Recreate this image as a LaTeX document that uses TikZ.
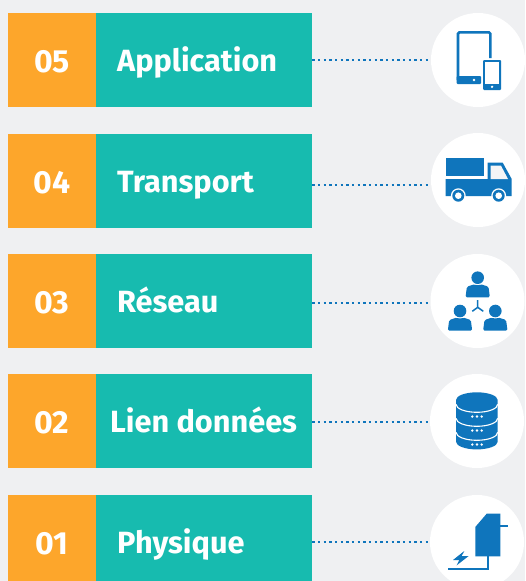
\documentclass[tikz,border=0pt]{standalone}
\usepackage{fontspec}
\setmainfont{Fira Sans}
\definecolor{pagegray}{HTML}{EFF0F2}
\definecolor{numorange}{HTML}{FDA62B}
\definecolor{rowteal}{HTML}{17BBAF}
\definecolor{iconblue}{HTML}{0F75BC}
\newcommand{\personicon}[2]{%
	\fill [iconblue] (#1,#2) circle (6.3);
	\fill [iconblue, rounded corners=1.5pt] (#1-12.2,#2+19.7) -- (#1-10.8,#2+9) -- (#1-3,#2+6.5) -- (#1,#2+8) -- (#1+3,#2+6.5) -- (#1+10.8,#2+9) -- (#1+12.2,#2+19.7) -- cycle;
}
\begin{document}
\begin{tikzpicture}[x=1pt,y=-1pt]
	\tikzstyle{numbox}=[fill=numorange, text=white, font=\bfseries\fontsize{32}{32}\selectfont, minimum width=88pt, minimum height=94pt, inner sep=0pt, text height=25pt, text depth=0pt]
	\tikzstyle{namebox}=[fill=rowteal, minimum width=216pt, minimum height=94pt, inner sep=0pt]
	\tikzstyle{nametext}=[anchor=base west, text=white, font=\bfseries\fontsize{30.7}{31}\selectfont, inner sep=0pt]
	\tikzstyle{iconcircle}=[circle, fill=white, minimum size=94pt, inner sep=0pt]
	\tikzstyle{dotline}=[iconblue, line width=2pt, dash pattern=on 2.4pt off 3.27pt]
	\useasboundingbox (0, 0) rectangle (525, 581);
	\clip (0, 0) rectangle (525, 581);
	\fill [pagegray] (0, 0) rectangle (525, 581);

	\node [numbox] (numA) at (52, 60) {05};
	\node [namebox] (nameA) at (204, 60) {};
	\node [nametext] (textA) at (117, 71.7) {Application};
	\node [numbox] (numB) at (52, 181) {04};
	\node [namebox] (nameB) at (204, 181) {};
	\node [nametext] (textB) at (117, 192.7) {Transport};
	\node [numbox] (numC) at (52, 301) {03};
	\node [namebox] (nameC) at (204, 301) {};
	\node [nametext] (textC) at (117, 312.7) {Réseau};
	\node [numbox] (numD) at (52, 421) {02};
	\node [namebox] (nameD) at (204, 421) {};
	\node [nametext] (textD) at (110, 432.7) {Lien données};
	\node [numbox] (numE) at (52, 542) {01};
	\node [namebox] (nameE) at (204, 542) {};
	\node [nametext] (textE) at (117, 553.7) {Physique};

	\node [iconcircle] (roundA) at (478, 60) {};
	\node [iconcircle] (roundB) at (478, 180) {};
	\node [iconcircle] (roundC) at (477.5, 301) {};
	\node [iconcircle] (roundD) at (477, 421) {};
	\node [iconcircle] (roundE) at (477, 542) {};

	\coordinate (dotA) at (430, 60);
	\coordinate (dotB) at (430, 185);
	\coordinate (dotC) at (430, 303);
	\coordinate (dotD) at (430, 422);
	\coordinate (dotE) at (430, 542);
	\draw [dotline] (nameA.east |- dotA) -- (dotA);
	\draw [dotline] (nameB.east |- dotB) -- (dotB);
	\draw [dotline] (nameC.east |- dotC) -- (dotC);
	\draw [dotline] (nameD.east |- dotD) -- (dotD);
	\draw [dotline] (nameE.east |- dotE) -- (dotE);

	% tablet and phone
	\draw [iconblue, line width=2.6pt, rounded corners=1.5pt] (490.4, 58) -- (490.4, 32.3) -- (458, 32.3) -- (458, 80);
	\fill [iconblue, rounded corners=1pt] (456.7, 76) rectangle (481, 84);
	\fill [white] (474, 80) circle (1.4);
	\fill [iconblue, rounded corners=1pt] (483, 60) rectangle (501, 90);
	\fill [white] (485, 62.3) rectangle (499.3, 83.7);
	\fill [white] (492, 86.8) circle (1.3);

	% truck
	\fill [iconblue] (445.7, 158.3) rectangle (483.7, 175.7);
	\fill [iconblue] (445.7, 179) -- (487.7, 179) -- (487.7, 162.7) -- (502.7, 162.7) -- (511.7, 179) -- (511.7, 196) -- (445.7, 196) -- cycle;
	\fill [pagegray!70!white] (490.7, 165.7) -- (501, 165.7) -- (508, 179) -- (490.7, 179) -- cycle;
	\foreach \wheelx in {458.3, 498.7} {
		\fill [white] (\wheelx, 195.7) circle (7.4);
		\fill [iconblue] (\wheelx, 195.7) circle (6);
		\fill [white] (\wheelx, 195.7) circle (3.3);
	}

	% people
	\personicon{477.7}{277.7}
	\personicon{460}{311}
	\personicon{495.3}{311}
	\draw [iconblue, line width=1.5pt] (477.7, 300) -- (477.7, 307.3) -- (472.3, 311.3);
	\draw [iconblue, line width=1.5pt] (477.7, 307.3) -- (483.3, 311.3);

	% database
	\fill [iconblue] (456, 400) arc [start angle=180, end angle=360, x radius=20.85, y radius=7.7] -- (497.7, 441.7) arc [start angle=0, end angle=180, x radius=20.85, y radius=7.7] -- cycle;
	\foreach \arcy in {404.3, 418.3, 432.3} {
		\draw [white, line width=1.1pt] (456, \arcy) arc [start angle=180, end angle=0, x radius=20.85, y radius=8];
		\foreach \dotx in {472.3, 477, 481.7}
			\fill [white] (\dotx, \arcy + 12.2) circle (1.3);
	}

	% physical
	\fill [iconblue] (475.3, 527) -- (486.7, 513.7) -- (500.3, 513.7) -- (500.3, 556.3) -- (475.3, 556.3) -- cycle;
	\draw [iconblue, line width=1.6pt] (500, 526) -- (507.7, 526);
	\draw [iconblue, line width=1.6pt] (487.7, 556) -- (487.7, 569) -- (448, 569);
	\fill [iconblue] (464.3, 551) -- (453, 560) -- (459.3, 560) -- (456.7, 565.3) -- (468.7, 556) -- (461.7, 556) -- cycle;
\end{tikzpicture}
\end{document}
